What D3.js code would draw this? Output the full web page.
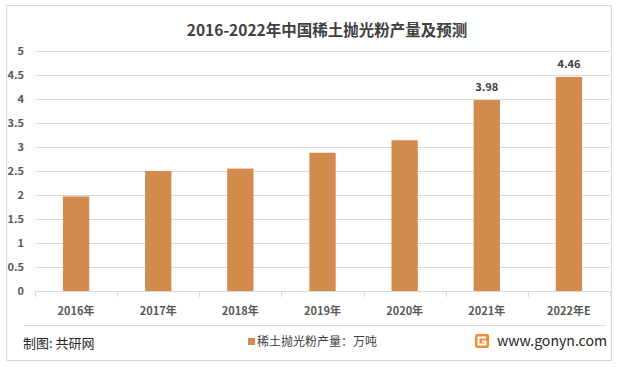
<!DOCTYPE html>
<html>
<head>
<meta charset="utf-8">
<script src="https://cdn.jsdelivr.net/npm/d3@7"></script>
<style>
  body { margin: 0; background: #fff; }
  text { font-family: "Noto Sans CJK SC", "Microsoft YaHei", sans-serif; }
</style>
</head>
<body>
<svg width="618" height="367"></svg>
<script>
var years = ["2016年", "2017年", "2018年", "2019年", "2020年", "2021年", "2022年E"];
var output = [1.97, 2.5, 2.55, 2.88, 3.14, 3.98, 4.46];
var labeled = ["2021年", "2022年E"];
var yTicks = [0, 0.5, 1, 1.5, 2, 2.5, 3, 3.5, 4, 4.5, 5];

var svg = d3.select("svg"),
    margin = {top: 51, left: 35, bottom: 76, right: 8},
    width = +svg.attr("width") - margin.left - margin.right,
    height = +svg.attr("height") - margin.top - margin.bottom;

var barColor = "#d38b4d";

// frame
svg.append("rect")
    .attr("x", 6.5).attr("y", 5.5)
    .attr("width", 605).attr("height", 355)
    .attr("fill", "#fff")
    .attr("stroke", "#d9d9d9");

svg.append("text")
    .attr("x", 327).attr("y", 36)
    .attr("text-anchor", "middle")
    .attr("font-size", 15.5)
    .attr("font-weight", "bold")
    .attr("fill", "#404040")
    .text("2016-2022年中国稀土抛光粉产量及预测");

var x = d3.scaleBand()
    .domain(years)
    .range([0, width])
    .paddingInner(0.68)
    .paddingOuter(0.34);

var y = d3.scaleLinear()
    .domain([0, 5])
    .range([height, 0]);

var g = svg.append("g")
    .attr("transform", "translate(" + margin.left + "," + margin.top + ")");

g.append("g")
  .selectAll("line")
    .data(yTicks.slice(1))
  .enter().append("line")
    .attr("x1", 0).attr("x2", width)
    .attr("y1", function(d) { return Math.round(y(d)) + 0.5; })
    .attr("y2", function(d) { return Math.round(y(d)) + 0.5; })
    .attr("stroke", "#d9d9d9");

g.append("g")
  .selectAll("text")
    .data(yTicks)
  .enter().append("text")
    .attr("x", -11)
    .attr("y", function(d) { return y(d); })
    .attr("dy", "0.35em")
    .attr("text-anchor", "end")
    .attr("font-size", 11)
    .attr("font-weight", "bold")
    .attr("fill", "#595959")
    .text(function(d) { return d; });

g.append("g")
  .selectAll("rect")
    .data(output)
  .enter().append("rect")
    .attr("x", function(d, i) { return x(years[i]); })
    .attr("y", function(d) { return y(d); })
    .attr("width", x.bandwidth())
    .attr("height", function(d) { return height - y(d); })
    .attr("fill", barColor);

g.append("g")
  .selectAll("text")
    .data(output.map(function(v, i) { return {year: years[i], value: v}; })
      .filter(function(d) { return labeled.indexOf(d.year) >= 0; }))
  .enter().append("text")
    .attr("x", function(d) { return x(d.year) + x.bandwidth() / 2; })
    .attr("y", function(d) { return y(d.value) - 9; })
    .attr("text-anchor", "middle")
    .attr("font-size", 11)
    .attr("font-weight", "bold")
    .attr("fill", "#404040")
    .text(function(d) { return d.value.toFixed(2); });

// x axis
var step = x.step(),
    x0 = x(years[0]) - step * x.paddingOuter();
g.append("line")
    .attr("x1", 0).attr("x2", width)
    .attr("y1", height + 0.5).attr("y2", height + 0.5)
    .attr("stroke", "#d9d9d9");

g.append("g")
  .selectAll("line")
    .data(d3.range(years.length + 1))
  .enter().append("line")
    .attr("x1", function(i) { return Math.round(x0 + i * step) + 0.5; })
    .attr("x2", function(i) { return Math.round(x0 + i * step) + 0.5; })
    .attr("y1", height).attr("y2", height + 6)
    .attr("stroke", "#d9d9d9");

g.append("g")
  .selectAll("text")
    .data(years)
  .enter().append("text")
    .attr("x", function(d) { return x(d) + x.bandwidth() / 2; })
    .attr("y", height + 24)
    .attr("text-anchor", "middle")
    .attr("font-size", 11)
    .attr("font-weight", "bold")
    .attr("fill", "#595959")
    .text(function(d) { return d; });

// footer
svg.append("line")
    .attr("x1", 24).attr("x2", 606)
    .attr("y1", 325.5).attr("y2", 325.5)
    .attr("stroke", "#d9d9d9");

svg.append("text")
    .attr("x", 23).attr("y", 348)
    .attr("font-size", 13)
    .attr("fill", "#262626")
    .text("制图: 共研网");

svg.append("rect")
    .attr("x", 248).attr("y", 338)
    .attr("width", 7).attr("height", 7)
    .attr("fill", barColor);

svg.append("text")
    .attr("x", 257).attr("y", 346)
    .attr("font-size", 12)
    .attr("fill", "#404040")
    .text("稀土抛光粉产量：万吨");

var logo = svg.append("g").attr("transform", "translate(475,334)");
logo.append("rect").attr("width", 14).attr("height", 14).attr("rx", 2).attr("fill", "#f08c3a");
logo.append("path")
    .attr("d", "M11,3.5 H3.5 V10.5 H10.5 V7.5 H7")
    .attr("fill", "none")
    .attr("stroke", "#fff")
    .attr("stroke-width", 2);

svg.append("text")
    .attr("x", 497).attr("y", 346)
    .attr("font-size", 14)
    .attr("textLength", 110)
    .attr("lengthAdjust", "spacingAndGlyphs")
    .attr("font-family", "'Liberation Sans', Arial, sans-serif")
    .attr("fill", "#262626")
    .text("www.gonyn.com");
</script>
</body>
</html>
